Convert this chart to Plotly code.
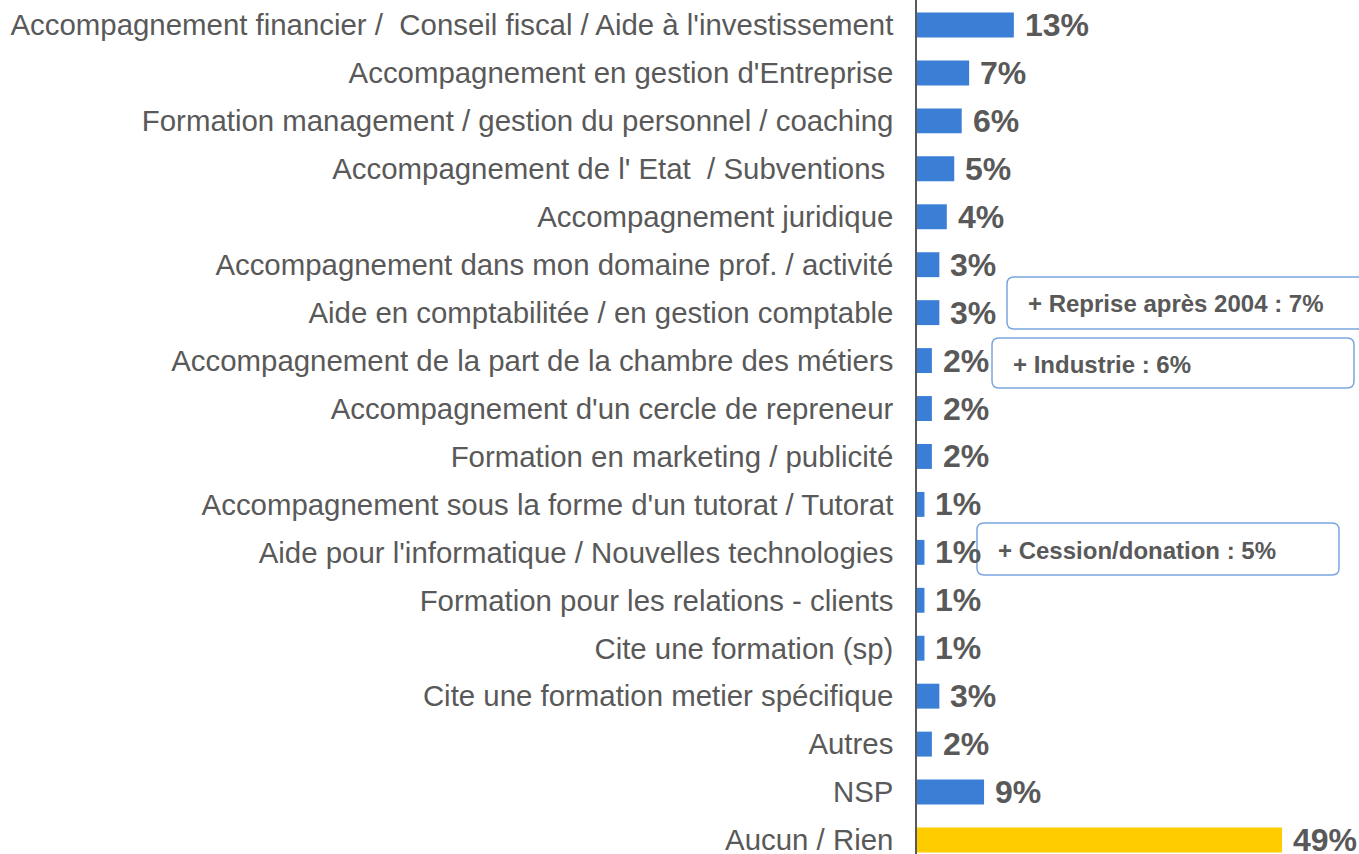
import plotly.graph_objects as go

categories = [
    "Accompagnement financier /\u00a0 Conseil fiscal / Aide à l'investissement",
    "Accompagnement en gestion d'Entreprise",
    "Formation management / gestion du personnel / coaching",
    "Accompagnement de l' Etat \u00a0/ Subventions\u00a0",
    "Accompagnement juridique",
    "Accompagnement dans mon domaine prof. / activité",
    "Aide en comptabilitée / en gestion comptable",
    "Accompagnement de la part de la chambre des métiers",
    "Accompagnement d'un cercle de repreneur",
    "Formation en marketing / publicité",
    "Accompagnement sous la forme d'un tutorat / Tutorat",
    "Aide pour l'informatique / Nouvelles technologies",
    "Formation pour les relations - clients",
    "Cite une formation (sp)",
    "Cite une formation metier spécifique",
    "Autres",
    "NSP",
    "Aucun / Rien",
]
values = [13, 7, 6, 5, 4, 3, 3, 2, 2, 2, 1, 1, 1, 1, 3, 2, 9, 49]
bar_colors = ["#3A7FD5"] * 17 + ["#FFCC00"]

callouts = ["+ Reprise après 2004 : 7%", "+ Industrie : 6%", "+ Cession/donation : 5%"]

W, H = 1359, 854
x0_px = 917
px_per_unit = 7.45
row0_px = 25
row_step = 47.94

fig = go.Figure()
fig.add_trace(go.Bar(
    x=values, y=categories, orientation="h",
    marker=dict(color=bar_colors, line=dict(width=0)),
    width=0.52, hoverinfo="skip",
))

for c, v in zip(categories, values):
    fig.add_annotation(x=v, y=c, xref="x", yref="y", text=f"<b>{v}%</b>",
                       showarrow=False, xanchor="left", yanchor="middle", xshift=9, yshift=0,
                       font=dict(family="Liberation Sans, Arial", size=32, color="#595959"))

def px2paper_x(px):
    return (px - x0_px) / (W - x0_px)

def py2paper_y(py):
    return 1 - py / H

boxes = [
    (1007, 277, 1368, 329, 1026, 304),
    (992, 338, 1354, 388, 1011, 364),
    (977, 523, 1339, 575, 996, 550),
]

for (bx0, by0, bx1, by1, tx, ty), txt in zip(boxes, callouts):
    r = 7
    rx = r / (W - x0_px)
    ry = r / H
    X0, X1 = px2paper_x(bx0), px2paper_x(bx1)
    Y0, Y1 = py2paper_y(by1), py2paper_y(by0)
    path = (f"M{X0+rx},{Y0} L{X1-rx},{Y0} Q{X1},{Y0} {X1},{Y0+ry} L{X1},{Y1-ry} Q{X1},{Y1} {X1-rx},{Y1} "
            f"L{X0+rx},{Y1} Q{X0},{Y1} {X0},{Y1-ry} L{X0},{Y0+ry} Q{X0},{Y0} {X0+rx},{Y0} Z")
    fig.add_shape(type="path", xref="paper", yref="paper", path=path,
                  line=dict(color="#7BA7DE", width=1.5), fillcolor="rgba(255,255,255,1)", layer="above")
    fig.add_annotation(x=px2paper_x(tx), y=py2paper_y(ty), xref="paper", yref="paper",
                       text=f"<b>{txt}</b>", showarrow=False, xanchor="left", yanchor="middle",
                       font=dict(family="Liberation Sans, Arial", size=24, color="#595959"))

y_top = -row0_px / row_step
y_bot = (H - row0_px) / row_step

fig.update_layout(
    width=W, height=H,
    margin=dict(l=x0_px, r=0, t=0, b=0, autoexpand=False),
    plot_bgcolor="white", paper_bgcolor="white",
    showlegend=False,
    xaxis=dict(range=[0, (W - x0_px) / px_per_unit], visible=False, fixedrange=True),
    yaxis=dict(categoryorder="array", categoryarray=categories,
               range=[y_bot, y_top], showgrid=False, zeroline=False,
               showline=True, linecolor="#595959", linewidth=1.5,
               ticks="", ticklabelstandoff=16,
               tickfont=dict(family="Liberation Sans, Arial", size=29.4, color="#595959"),
               fixedrange=True),
)

fig.write_html("out.html", config={"displayModeBar": False},
               post_script="document.body.style.margin='0';document.body.style.overflow='hidden';")
